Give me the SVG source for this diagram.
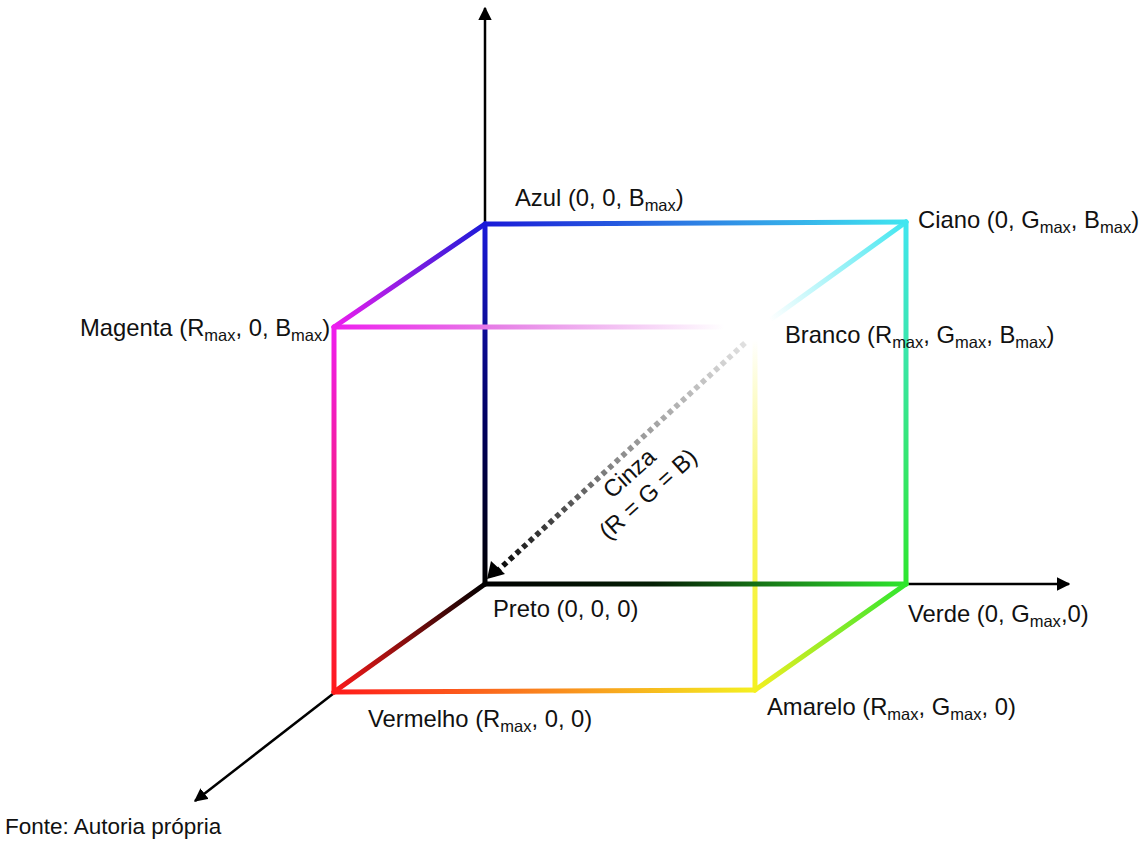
<svg xmlns="http://www.w3.org/2000/svg" width="1143" height="843" viewBox="0 0 1143 843">
<style>
text{font-family:"Liberation Sans",Arial,sans-serif;font-size:23.8px;fill:#111}
.sub{font-size:16.5px}
.axis{stroke:#000;stroke-width:2.5;fill:none}
.edge{stroke-width:5;fill:none;stroke-linecap:round}
</style>
<defs>
<marker id="ah" viewBox="0 0 10 10" refX="9" refY="5" markerWidth="5.4" markerHeight="5.4" orient="auto" markerUnits="strokeWidth"><path d="M0,0 L10,5 L0,10 z" fill="#000"/></marker>
<linearGradient id="gKB" gradientUnits="userSpaceOnUse" x1="485" y1="584" x2="485" y2="224"><stop offset="0" stop-color="#000"/><stop offset="0.45" stop-color="#000060"/><stop offset="1" stop-color="#1a1ad8"/></linearGradient>
<linearGradient id="gKG" gradientUnits="userSpaceOnUse" x1="485" y1="584" x2="906" y2="584"><stop offset="0" stop-color="#000"/><stop offset="0.4" stop-color="#052005"/><stop offset="1" stop-color="#2ee62e"/></linearGradient>
<linearGradient id="gKR" gradientUnits="userSpaceOnUse" x1="485" y1="584" x2="334" y2="692"><stop offset="0" stop-color="#000"/><stop offset="1" stop-color="#ff1a1a"/></linearGradient>
<linearGradient id="gBC" gradientUnits="userSpaceOnUse" x1="485" y1="224" x2="906" y2="222"><stop offset="0" stop-color="#1a1ad8"/><stop offset="1" stop-color="#40e6f0"/></linearGradient>
<linearGradient id="gCG" gradientUnits="userSpaceOnUse" x1="906" y1="222" x2="906" y2="584"><stop offset="0" stop-color="#40e6f0"/><stop offset="1" stop-color="#2ee62e"/></linearGradient>
<linearGradient id="gMB" gradientUnits="userSpaceOnUse" x1="334" y1="327" x2="485" y2="224"><stop offset="0" stop-color="#ee1eee"/><stop offset="1" stop-color="#1a1ad8"/></linearGradient>
<linearGradient id="gMR" gradientUnits="userSpaceOnUse" x1="334" y1="327" x2="334" y2="692"><stop offset="0" stop-color="#ee1eee"/><stop offset="1" stop-color="#ff1a1a"/></linearGradient>
<linearGradient id="gRY" gradientUnits="userSpaceOnUse" x1="334" y1="692" x2="755" y2="690"><stop offset="0" stop-color="#ff1a1a"/><stop offset="1" stop-color="#f4f020"/></linearGradient>
<linearGradient id="gYG" gradientUnits="userSpaceOnUse" x1="755" y1="690" x2="906" y2="584"><stop offset="0" stop-color="#f4f020"/><stop offset="1" stop-color="#2ee62e"/></linearGradient>
<linearGradient id="gMW" gradientUnits="userSpaceOnUse" x1="334" y1="327" x2="745" y2="327"><stop offset="0" stop-color="#ee1eee"/><stop offset="0.4" stop-color="#e680e6"/><stop offset="0.95" stop-color="#fff"/></linearGradient>
<linearGradient id="gCW" gradientUnits="userSpaceOnUse" x1="906" y1="222" x2="770" y2="320"><stop offset="0" stop-color="#40e6f0"/><stop offset="1" stop-color="#fff"/></linearGradient>
<linearGradient id="gYW" gradientUnits="userSpaceOnUse" x1="755" y1="690" x2="755" y2="340"><stop offset="0" stop-color="#f4f020"/><stop offset="0.5" stop-color="#f8f660"/><stop offset="1" stop-color="#fff"/></linearGradient>
<linearGradient id="gKW" gradientUnits="userSpaceOnUse" x1="745" y1="343" x2="490" y2="578"><stop offset="0" stop-color="#e0e0e0"/><stop offset="0.5" stop-color="#8a8a8a"/><stop offset="1" stop-color="#000"/></linearGradient>
</defs>
<g id="connectors">
<line class="axis" x1="485" y1="230" x2="485" y2="8" marker-end="url(#ah)"/>
<line class="axis" x1="900" y1="584" x2="1069" y2="584" marker-end="url(#ah)"/>
<line class="axis" x1="338" y1="690" x2="195" y2="801" marker-end="url(#ah)"/>
<line class="edge" x1="755" y1="690" x2="755" y2="340" stroke="url(#gYW)" stroke-width="4"/>
<line class="edge" x1="906" y1="222" x2="770" y2="320" stroke="url(#gCW)" stroke-width="4"/>
<line class="edge" x1="485" y1="584" x2="485" y2="224" stroke="url(#gKB)"/>
<line class="edge" x1="334" y1="327" x2="745" y2="327" stroke="url(#gMW)" stroke-width="4.5"/>
<line class="edge" x1="485" y1="584" x2="906" y2="584" stroke="url(#gKG)"/>
<line class="edge" x1="485" y1="584" x2="334" y2="692" stroke="url(#gKR)"/>
<line class="edge" x1="485" y1="224" x2="906" y2="222" stroke="url(#gBC)"/>
<line class="edge" x1="906" y1="222" x2="906" y2="584" stroke="url(#gCG)"/>
<line class="edge" x1="334" y1="327" x2="485" y2="224" stroke="url(#gMB)"/>
<line class="edge" x1="334" y1="327" x2="334" y2="692" stroke="url(#gMR)"/>
<line class="edge" x1="334" y1="692" x2="755" y2="690" stroke="url(#gRY)"/>
<line class="edge" x1="755" y1="690" x2="906" y2="584" stroke="url(#gYG)"/>
<line x1="745" y1="343" x2="493" y2="575" stroke="url(#gKW)" stroke-width="5.5" stroke-dasharray="5 4" fill="none"/>
<path d="M487,579 L491,561 L505,574 z" fill="#000"/>
</g>
<g id="node-azul"><text x="515" y="206">Azul (0, 0, B<tspan class="sub" dy="5">max</tspan><tspan dy="-5">)</tspan></text></g>
<g id="node-ciano"><text x="918" y="228">Ciano (0, G<tspan class="sub" dy="5">max</tspan><tspan dy="-5">, B</tspan><tspan class="sub" dy="5">max</tspan><tspan dy="-5">)</tspan></text></g>
<g id="node-magenta"><text x="80" y="336">Magenta (R<tspan class="sub" dy="5">max</tspan><tspan dy="-5">,  0, B</tspan><tspan class="sub" dy="5">max</tspan><tspan dy="-5">)</tspan></text></g>
<g id="node-branco"><text x="785" y="343">Branco (R<tspan class="sub" dy="5">max</tspan><tspan dy="-5">, G</tspan><tspan class="sub" dy="5">max</tspan><tspan dy="-5">, B</tspan><tspan class="sub" dy="5">max</tspan><tspan dy="-5">)</tspan></text></g>
<g id="node-cinza" transform="translate(630,474) rotate(-42)"><text x="0" y="7" text-anchor="middle">Cinza</text><text x="0" y="35" text-anchor="middle">(R = G = B)</text></g>
<g id="node-preto"><text x="493" y="617">Preto (0, 0, 0)</text></g>
<g id="node-verde"><text x="908" y="622">Verde (0, G<tspan class="sub" dy="5">max</tspan><tspan dy="-5">,0)</tspan></text></g>
<g id="node-vermelho"><text x="368" y="727">Vermelho (R<tspan class="sub" dy="5">max</tspan><tspan dy="-5">, 0, 0)</tspan></text></g>
<g id="node-amarelo"><text x="767" y="715">Amarelo (R<tspan class="sub" dy="5">max</tspan><tspan dy="-5">, G</tspan><tspan class="sub" dy="5">max</tspan><tspan dy="-5">, 0)</tspan></text></g>
<text x="5" y="834" style="font-size:22.5px">Fonte: Autoria própria</text>
</svg>
